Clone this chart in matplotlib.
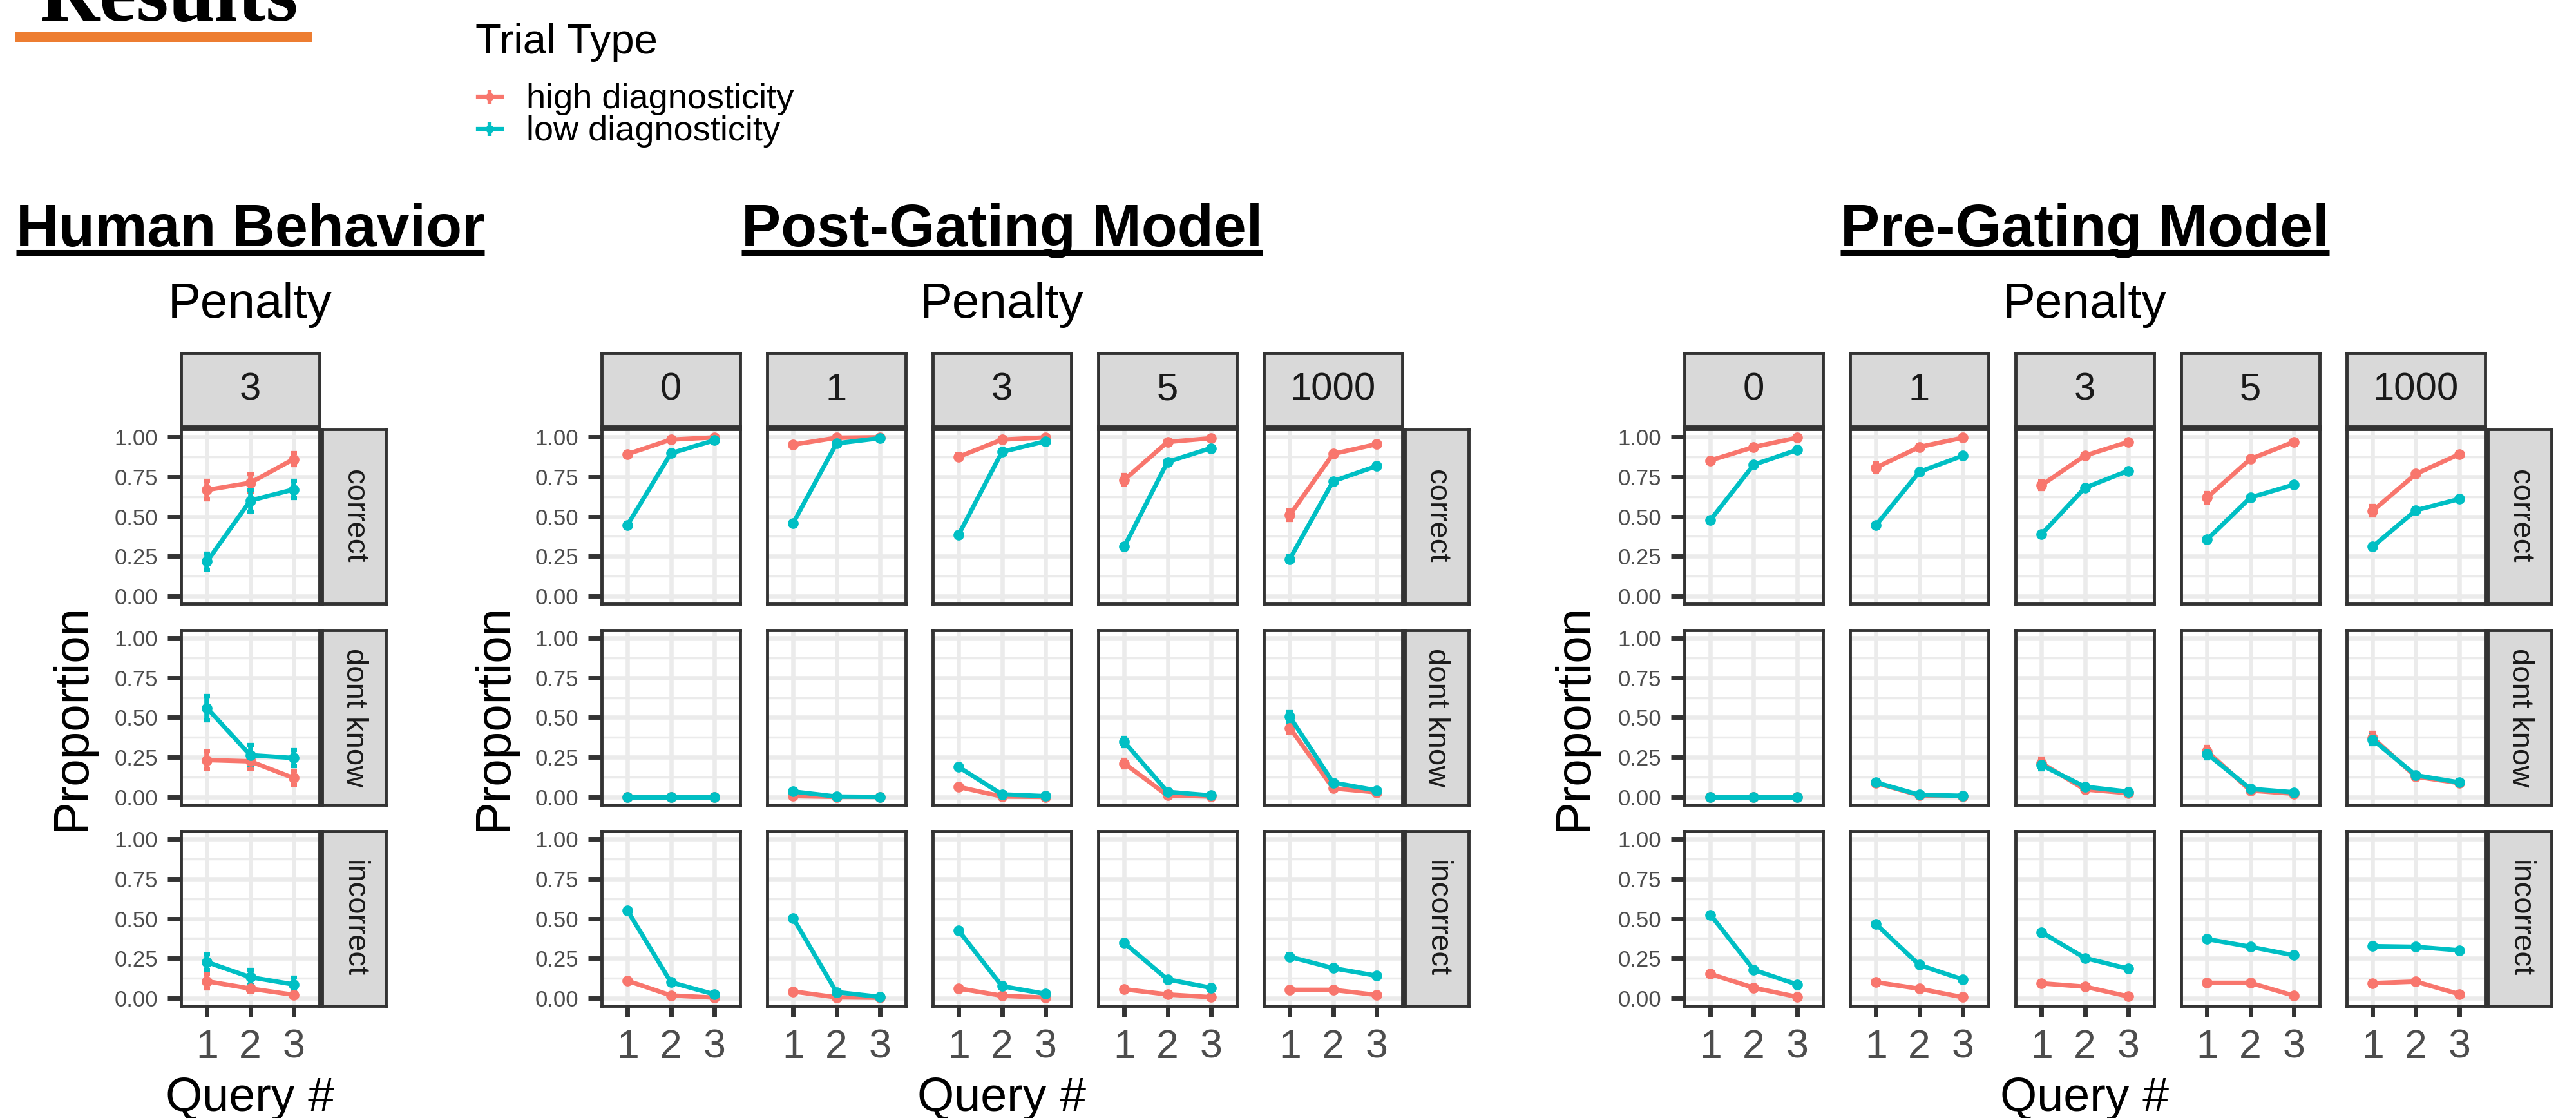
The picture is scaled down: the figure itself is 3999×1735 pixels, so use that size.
import matplotlib
matplotlib.use("Agg")
import matplotlib.pyplot as plt
from matplotlib.lines import Line2D
from matplotlib.patches import Rectangle

plt.rcParams['font.family'] = ['Liberation Sans', 'DejaVu Sans']

W, H = 3999, 1735

queries = [1, 2, 3]
outcomes = ['correct', 'dont know', 'incorrect']
model_penalties = ['0', '1', '3', '5', '1000']
human_penalty = ['3']
trial_types = ['high diagnosticity', 'low diagnosticity']
colors = ['#F8766D', '#00BFC4']

# human behaviour (penalty 3): mean and error bar per query
hb_correct_high = [0.667, 0.712, 0.861]
hb_correct_low = [0.216, 0.600, 0.670]
hb_dk_high = [0.232, 0.224, 0.119]
hb_dk_low = [0.560, 0.263, 0.245]
hb_inc_high = [0.105, 0.059, 0.020]
hb_inc_low = [0.226, 0.131, 0.085]
hb_correct_high_se = [0.060, 0.055, 0.040]
hb_correct_low_se = [0.050, 0.070, 0.055]
hb_dk_high_se = [0.054, 0.045, 0.045]
hb_dk_low_se = [0.078, 0.063, 0.050]
hb_inc_high_se = [0.045, 0.020, 0.010]
hb_inc_low_se = [0.050, 0.047, 0.042]

# post-gating model, one row per penalty (0, 1, 3, 5, 1000)
post_correct_high = [[0.893, 0.984, 0.998], [0.952, 0.996, 0.999], [0.876, 0.984, 0.998],
                     [0.731, 0.969, 0.993], [0.509, 0.894, 0.955]]
post_correct_low = [[0.447, 0.898, 0.979], [0.458, 0.960, 0.993], [0.386, 0.907, 0.973],
                    [0.310, 0.844, 0.930], [0.232, 0.722, 0.817]]
post_dk_high = [[0.0, 0.0, 0.0], [0.005, 0.0, 0.0], [0.063, 0.002, 0.0],
                [0.211, 0.009, 0.002], [0.435, 0.054, 0.029]]
post_dk_low = [[0.0, 0.0, 0.0], [0.034, 0.002, 0.0], [0.188, 0.016, 0.005],
               [0.346, 0.032, 0.009], [0.505, 0.090, 0.041]]
post_inc_high = [[0.108, 0.016, 0.002], [0.041, 0.004, 0.001], [0.060, 0.014, 0.002],
                 [0.055, 0.022, 0.005], [0.051, 0.051, 0.019]]
post_inc_low = [[0.549, 0.099, 0.023], [0.503, 0.037, 0.007], [0.424, 0.074, 0.026],
                [0.346, 0.117, 0.064], [0.259, 0.188, 0.140]]
# error at query 1 (later queries have negligible error)
post_q1_se_high = {'correct': [0.006, 0.006, 0.015, 0.030, 0.030],
                   'dont know': [0.0, 0.004, 0.010, 0.025, 0.030],
                   'incorrect': [0.006, 0.004, 0.006, 0.006, 0.006]}
post_q1_se_low = {'correct': [0.010, 0.010, 0.010, 0.015, 0.020],
                  'dont know': [0.0, 0.010, 0.015, 0.025, 0.030],
                  'incorrect': [0.010, 0.010, 0.010, 0.015, 0.015]}

# pre-gating model
pre_correct_high = [[0.853, 0.937, 0.996], [0.808, 0.937, 0.996], [0.697, 0.883, 0.969],
                    [0.619, 0.862, 0.969], [0.535, 0.768, 0.892]]
pre_correct_low = [[0.478, 0.826, 0.919], [0.445, 0.781, 0.882], [0.388, 0.680, 0.788],
                   [0.355, 0.619, 0.700], [0.310, 0.539, 0.610]]
pre_dk_high = [[0.0, 0.0, 0.0], [0.088, 0.010, 0.004], [0.213, 0.047, 0.024],
               [0.287, 0.040, 0.020], [0.373, 0.127, 0.087]]
pre_dk_low = [[0.0, 0.0, 0.0], [0.091, 0.013, 0.007], [0.200, 0.064, 0.033],
              [0.271, 0.051, 0.029], [0.360, 0.136, 0.091]]
pre_inc_high = [[0.151, 0.064, 0.007], [0.099, 0.058, 0.005], [0.092, 0.071, 0.010],
                [0.095, 0.095, 0.015], [0.093, 0.103, 0.024]]
pre_inc_low = [[0.524, 0.177, 0.085], [0.465, 0.208, 0.117], [0.414, 0.252, 0.184],
               [0.371, 0.322, 0.269], [0.326, 0.322, 0.300]]
pre_q1_se_high = {'correct': [0.010, 0.025, 0.025, 0.030, 0.030],
                  'dont know': [0.0, 0.015, 0.030, 0.030, 0.030],
                  'incorrect': [0.010, 0.010, 0.010, 0.010, 0.010]}
pre_q1_se_low = {'correct': [0.010, 0.010, 0.010, 0.015, 0.015],
                 'dont know': [0.0, 0.015, 0.025, 0.030, 0.030],
                 'incorrect': [0.010, 0.010, 0.010, 0.015, 0.015]}

hb = {'high': {'correct': [hb_correct_high], 'dont know': [hb_dk_high], 'incorrect': [hb_inc_high]},
      'low': {'correct': [hb_correct_low], 'dont know': [hb_dk_low], 'incorrect': [hb_inc_low]},
      'se_high': {'correct': [hb_correct_high_se], 'dont know': [hb_dk_high_se], 'incorrect': [hb_inc_high_se]},
      'se_low': {'correct': [hb_correct_low_se], 'dont know': [hb_dk_low_se], 'incorrect': [hb_inc_low_se]}}


def model_se(q1):
    return {k: [[v, 0.0, 0.0] for v in vals] for k, vals in q1.items()}


post = {'high': {'correct': post_correct_high, 'dont know': post_dk_high, 'incorrect': post_inc_high},
        'low': {'correct': post_correct_low, 'dont know': post_dk_low, 'incorrect': post_inc_low},
        'se_high': model_se(post_q1_se_high), 'se_low': model_se(post_q1_se_low)}
pre = {'high': {'correct': pre_correct_high, 'dont know': pre_dk_high, 'incorrect': pre_inc_high},
       'low': {'correct': pre_correct_low, 'dont know': pre_dk_low, 'incorrect': pre_inc_low},
       'se_high': model_se(pre_q1_se_high), 'se_low': model_se(pre_q1_se_low)}

# layout in pixels of the 3999x1735 canvas
PW, PH, PITCH = 215, 271, 257
ROW_TOPS = [666, 978, 1290]
STRIP_TOP, STRIP_H = 548, 114
RSTRIP_W = 99

sections = [
    ('Human Behavior', 281, human_penalty, hb, 112),
    ('Post-Gating Model', 934, model_penalties, post, 767),
    ('Pre-Gating Model', 2615, model_penalties, pre, 2444),
]

BORDER = '#333333'
GRID = '#EBEBEB'


def rect(x, y, w, h):
    return [x / W, 1 - (y + h) / H, w / W, h / H]


def fy(y):
    return 1 - y / H


def strip(fig, x, y, w, h, label, rot, size):
    s = fig.add_axes(rect(x, y, w, h))
    s.set_facecolor('#D9D9D9')
    s.set_xticks([])
    s.set_yticks([])
    for sp in s.spines.values():
        sp.set_color(BORDER)
        sp.set_linewidth(3.5)
    s.text(0.5, 0.5, label, rotation=rot, ha='center', va='center',
           fontsize=size, color='#1A1A1A', transform=s.transAxes)


fig = plt.figure(figsize=(W / 100, H / 100), dpi=100)

titles = []
for name, x0, pens, data, ylab_x in sections:
    n = len(pens)
    cx = x0 + ((n - 1) * PITCH + PW) / 2
    for j, pen in enumerate(pens):
        x = x0 + j * PITCH
        strip(fig, x, STRIP_TOP, PW, STRIP_H, pen, 0, 43)
        for i, out in enumerate(outcomes):
            ax = fig.add_axes(rect(x, ROW_TOPS[i], PW, PH))
            for key, c in zip(['high', 'low'], colors):
                ax.errorbar(queries, data[key][out][j], yerr=data['se_' + key][out][j],
                            color=c, lw=5, marker='o', ms=11, elinewidth=5.5,
                            capsize=3.5, capthick=4.5, zorder=3)
            ax.set_xlim(0.4, 3.6)
            ax.set_ylim(-0.05, 1.05)
            ax.set_xticks(queries)
            ax.set_yticks([0, 0.25, 0.5, 0.75, 1.0])
            ax.set_yticks([0.125, 0.375, 0.625, 0.875], minor=True)
            ax.set_yticklabels(['0.00', '0.25', '0.50', '0.75', '1.00'])
            ax.grid(True, which='major', color=GRID, lw=4.7)
            ax.grid(True, which='minor', axis='y', color=GRID, lw=2.5)
            ax.set_axisbelow(True)
            for sp in ax.spines.values():
                sp.set_color(BORDER)
                sp.set_linewidth(3.5)
            ax.tick_params(which='minor', length=0)
            ax.tick_params(axis='y', length=15, width=5, color=BORDER, pad=11,
                           labelsize=25, labelcolor='#4D4D4D', labelleft=(j == 0))
            if j > 0:
                ax.tick_params(axis='y', length=0)
            if i == 2:
                ax.tick_params(axis='x', length=12, width=5, color=BORDER, pad=13,
                               labelsize=45, labelcolor='#4D4D4D')
            else:
                ax.tick_params(axis='x', length=0, labelbottom=False)
            if j == n - 1:
                strip(fig, x + PW + 4, ROW_TOPS[i], RSTRIP_W, PH, out, -90, 34)

    t = fig.text(cx / W, fy(382), name, ha='center', va='baseline',
                 fontsize=66, fontweight='bold')
    titles.append(t)
    fig.text(cx / W, fy(493), 'Penalty', ha='center', va='baseline', fontsize=55)
    fig.text(cx / W, fy(1724), 'Query #', ha='center', va='baseline', fontsize=53)
    fig.text(ylab_x / W, fy(1113), 'Proportion', ha='center', va='center',
             rotation=90, fontsize=55)

# underline the section titles
fig.canvas.draw()
renderer = fig.canvas.get_renderer()
for t in titles:
    bb = t.get_window_extent(renderer)
    fig.add_artist(Line2D([bb.x0 / W, bb.x1 / W], [fy(392), fy(392)],
                          transform=fig.transFigure, color='black', lw=6.5,
                          solid_capstyle='butt'))

# slide header, cut off by the top edge as in the source slide
fig.text(62 / W, fy(32), 'Results', family='Liberation Serif', fontweight='bold',
         fontsize=93, va='baseline', ha='left')
fig.add_artist(Rectangle((24 / W, fy(65)), 461 / W, 16 / H, transform=fig.transFigure,
                         color='#ED7D31', lw=0))

# legend
fig.text(738 / W, fy(83), 'Trial Type', fontsize=47, va='baseline', ha='left')
for k, (lab, c) in enumerate(zip(trial_types, colors)):
    ky = 150 + 50 * k
    fig.add_artist(Line2D([742 / W, 760 / W, 779 / W], [fy(ky)] * 3, transform=fig.transFigure,
                          color=c, lw=4.5, marker='o', ms=8, markevery=[1]))
    fig.add_artist(Line2D([760 / W], [fy(ky)], transform=fig.transFigure,
                          color=c, marker='|', ms=16, mew=4.5, ls='none'))
    fig.text(817 / W, fy(ky + 18), lab, fontsize=39, va='baseline', ha='left')

fig.savefig('out.png', dpi=100)
